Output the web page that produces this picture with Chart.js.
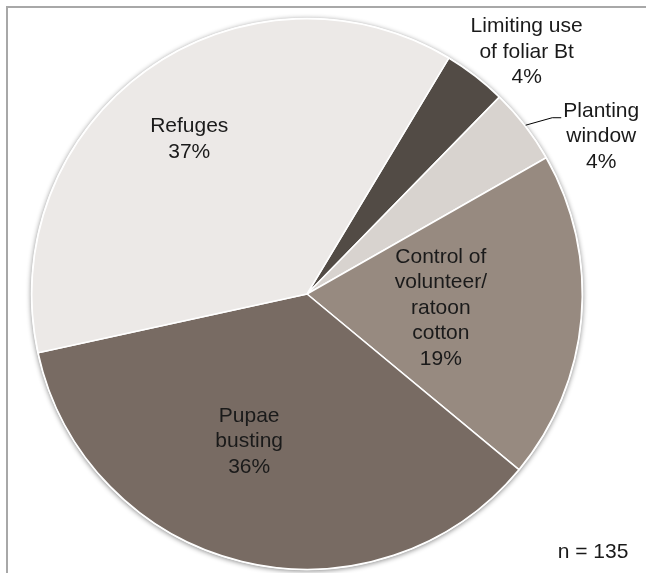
<!DOCTYPE html>
<html>
<head>
<meta charset="utf-8">
<script src="https://cdn.jsdelivr.net/npm/chart.js@4"></script>
<style>
    html, body { margin: 0; padding: 0; background: #fff; overflow: hidden; }
    #wrap { position: relative; width: 646px; height: 573px; }
    #frame { position: absolute; left: 6px; top: 6px; width: 700px; height: 700px; border: 2px solid #a8a8a8; }
    canvas { position: absolute; left: 0; top: 0; }
</style>
</head>
<body>
<div id="wrap">
    <div id="frame"></div>
    <canvas id="myChart" width="646" height="573"></canvas>
</div>
<script>
// Dados do gráfico (contagem de respostas, n = 135)
const categories = ['Limiting use of foliar Bt', 'Planting window', 'Control of volunteer/ratoon cotton', 'Pupae busting', 'Refuges'];
const counts = [5, 6, 26, 48, 50];
const labelLines = [['Limiting use', 'of foliar Bt'], ['Planting', 'window'], ['Control of', 'volunteer/', 'ratoon', 'cotton'], ['Pupae', 'busting'], ['Refuges']];
const sliceColours = ['#524b45', '#d8d3cf', '#978a80', '#786b63', '#ece9e7'];
const sampleNote = 'n = 135';

const total = counts.reduce((a, b) => a + b, 0);

// posição dos rótulos: ângulo (graus a partir do topo) e fração do raio
const labelPlacement = [
    { angle: 42.2, r: 1.188 },
    { angle: 61.8, r: 1.213, leader: true },
    { angle: 96.0, r: 0.489 },
    { angle: 201.4, r: 0.576 },
    { angle: 322.7, r: 0.706 }
];

// sombra suave em volta da pizza
const shadowPlugin = {
    id: 'pieShadow',
    beforeDatasetsDraw(chart) {
        const arc = chart.getDatasetMeta(0).data[0];
        const { x, y, outerRadius } = arc.getProps(['x', 'y', 'outerRadius'], true);
        const ctx = chart.ctx;
        ctx.save();
        ctx.shadowColor = 'rgba(0,0,0,0.45)';
        ctx.shadowBlur = 5;
        ctx.shadowOffsetX = 0;
        ctx.shadowOffsetY = 1;
        ctx.fillStyle = '#ffffff';
        ctx.beginPath();
        ctx.arc(x, y, outerRadius + 1, 0, Math.PI * 2);
        ctx.fill();
        ctx.restore();
    }
};

// rótulos das fatias
const labelPlugin = {
    id: 'sliceLabels',
    afterDatasetsDraw(chart) {
        const ctx = chart.ctx;
        const meta = chart.getDatasetMeta(0);
        const lineH = 25.5;
        ctx.save();
        ctx.font = '21px "Liberation Sans", Arial, sans-serif';
        ctx.fillStyle = '#1a1a1a';
        ctx.textAlign = 'center';
        ctx.textBaseline = 'middle';
        meta.data.forEach((arc, i) => {
            const p = arc.getProps(['x', 'y', 'outerRadius', 'startAngle', 'endAngle'], true);
            const place = labelPlacement[i];
            const a = (place.angle - 90) * Math.PI / 180;
            const cx = p.x + Math.cos(a) * p.outerRadius * place.r;
            const cy = p.y + Math.sin(a) * p.outerRadius * place.r;
            const lines = labelLines[i].concat([Math.round(counts[i] / total * 100) + '%']);
            const top = cy - (lines.length - 1) * lineH / 2;
            lines.forEach((t, k) => ctx.fillText(t, cx, top + k * lineH));
            if (place.leader) {
                const mid = (p.startAngle + p.endAngle) / 2;
                const sx = p.x + Math.cos(mid) * (p.outerRadius + 1);
                const sy = p.y + Math.sin(mid) * (p.outerRadius + 1);
                ctx.beginPath();
                ctx.strokeStyle = '#000';
                ctx.lineWidth = 1;
                ctx.moveTo(sx, sy);
                ctx.lineTo(cx - 49, top + 7);
                ctx.lineTo(cx - 40, top + 7);
                ctx.stroke();
            }
        });
        ctx.textAlign = 'center';
        ctx.fillText(sampleNote, 593, 552);
        ctx.restore();
    }
};

var ctx = document.getElementById('myChart').getContext('2d');
var chart = new Chart(ctx, {
    type: 'pie',
    data: {
        labels: categories,
        datasets: [{
            data: counts,
            backgroundColor: sliceColours,
            borderColor: '#ffffff',
            borderWidth: 1.5
        }]
    },
    options: {
        responsive: false,
        animation: false,
        rotation: 31,
        layout: {
            padding: { left: 31, right: 63, top: 18, bottom: 3 }
        },
        plugins: {
            legend: { display: false },
            tooltip: { enabled: false }
        }
    },
    plugins: [shadowPlugin, labelPlugin]
});
</script>
</body>
</html>
